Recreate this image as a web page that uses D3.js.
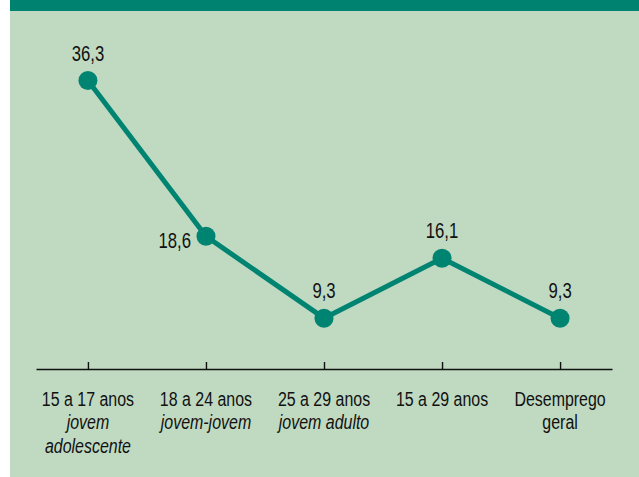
<!DOCTYPE html>
<html>
<head>
<meta charset="utf-8">
<script src="https://cdn.jsdelivr.net/npm/d3@7"></script>
<style>
  body { margin: 0; background: #fff; }
  text { font-family: "Liberation Sans", Arial, sans-serif; fill: #111; }
</style>
</head>
<body>
<div id="chart"></div>
<script>
let svgWidth = 639;
let svgHeight = 477;

// data
let categories = ["15 a 17 anos", "18 a 24 anos", "25 a 29 anos", "15 a 29 anos", "Desemprego geral"];
let mainLines = [["15 a 17 anos"], ["18 a 24 anos"], ["25 a 29 anos"], ["15 a 29 anos"], ["Desemprego", "geral"]];
let subLines = [["jovem", "adolescente"], ["jovem-jovem"], ["jovem adulto"], [], []];
let values = [36.3, 18.6, 9.3, 16.1, 9.3];
let labelSide = ["top", "left", "top", "top", "top"];

let teal = "#008472";
let squeeze = 0.76; // fake a condensed face

let svg = d3.select("#chart")
  .append("svg")
  .attr("width", svgWidth)
  .attr("height", svgHeight);

// panel background + top band
svg.append("rect")
  .attr("x", 10).attr("y", 0)
  .attr("width", svgWidth - 10).attr("height", svgHeight)
  .attr("fill", "#c0d9c1");

svg.append("rect")
  .attr("x", 10).attr("y", 0)
  .attr("width", svgWidth - 10).attr("height", 11)
  .attr("fill", "#008271");

let axisY = 369;

let x = d3.scalePoint()
  .domain(categories)
  .range([36, 612])
  .padding(0.44);

let y = d3.scaleLinear()
  .domain([0, 40])
  .range([400, 48]);

// x axis, ticks pointing up
let xAxis = svg.append("g")
  .attr("transform", `translate(0, ${axisY})`)
  .call(d3.axisBottom(x).tickSizeInner(-7).tickSizeOuter(0).tickFormat(""));

xAxis.select(".domain").attr("stroke", "#111").attr("stroke-width", 1.6);
xAxis.selectAll(".tick line").attr("stroke", "#111").attr("stroke-width", 1.4);

// category labels
let labels = svg.append("g")
  .selectAll("text")
  .data(categories)
  .enter()
  .append("text")
  .attr("text-anchor", "middle")
  .attr("font-size", 21)
  .attr("transform", d => `translate(${x(d)}, ${axisY + 37}) scale(${squeeze}, 1)`);

labels.each(function(d, i) {
  let t = d3.select(this);
  let lines = mainLines[i].map(s => ({ s: s, it: false }))
    .concat(subLines[i].map(s => ({ s: s, it: true })));
  lines.forEach((l, j) => {
    t.append("tspan")
      .attr("x", 0)
      .attr("y", j * 23.5)
      .attr("font-style", l.it ? "italic" : "normal")
      .text(l.s);
  });
});

// line
let line = d3.line()
  .x((d, i) => x(categories[i]))
  .y(d => y(d));

svg.append("path")
  .datum(values)
  .attr("d", line)
  .attr("fill", "none")
  .attr("stroke", teal)
  .attr("stroke-width", 5)
  .attr("stroke-linejoin", "round");

svg.append("g")
  .selectAll("circle")
  .data(values)
  .enter()
  .append("circle")
  .attr("cx", (d, i) => x(categories[i]))
  .attr("cy", d => y(d))
  .attr("r", 9.5)
  .attr("fill", teal);

// value labels
svg.append("g")
  .selectAll("text")
  .data(values)
  .enter()
  .append("text")
  .attr("font-size", 22)
  .attr("text-anchor", (d, i) => labelSide[i] == "left" ? "end" : "middle")
  .attr("transform", (d, i) => {
    let px = labelSide[i] == "left" ? x(categories[i]) - 15 : x(categories[i]);
    let py = labelSide[i] == "left" ? y(d) + 12 : y(d) - 20;
    return `translate(${px}, ${py}) scale(${squeeze}, 1)`;
  })
  .text(d => d3.format(".1f")(d).replace(".", ","));
</script>
</body>
</html>
